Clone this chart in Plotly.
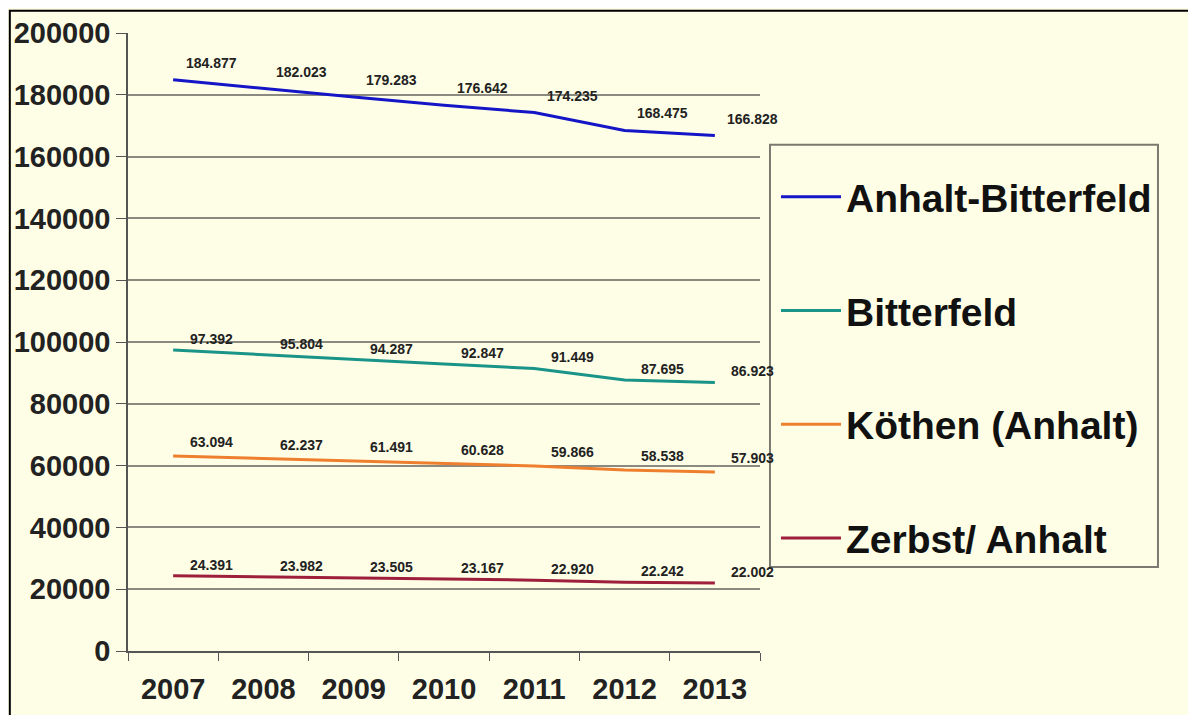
import plotly.graph_objects as go

years = ["2007", "2008", "2009", "2010", "2011", "2012", "2013"]
anhalt_bitterfeld = [184877, 182023, 179283, 176642, 174235, 168475, 166828]
bitterfeld = [97392, 95804, 94287, 92847, 91449, 87695, 86923]
koethen = [63094, 62237, 61491, 60628, 59866, 58538, 57903]
zerbst = [24391, 23982, 23505, 23167, 22920, 22242, 22002]

# name, values, colour, label lift (px)
series = [
    ("Anhalt-Bitterfeld", anhalt_bitterfeld, "#1515c8", 17),
    ("Bitterfeld", bitterfeld, "#1a9488", 11),
    ("Köthen (Anhalt)", koethen, "#ee7f2e", 14),
    ("Zerbst/ Anhalt", zerbst, "#9e1f3c", 11),
]

y_ticks = list(range(0, 200001, 20000))
BG = "#fefee6"
FONT = "Liberation Sans, Arial"


def de_num(v):
    # German thousands separator
    return "{:,}".format(v).replace(",", ".")


fig = go.Figure()
for i, (name, vals, col, lift) in enumerate(series):
    fig.add_trace(go.Scatter(
        x=years, y=vals, name=name, mode="lines",
        line=dict(color=col, width=3),
        legendgroup=str(i)))
    # value labels, a bit above and right of each point
    # (category axis -> annotations need the category index)
    for j, v in enumerate(vals):
        fig.add_annotation(x=j, y=v, xref="x", yref="y",
                           text="<b>" + de_num(v) + "</b>",
                           showarrow=False, xshift=38, yshift=lift,
                           font=dict(family=FONT, size=14, color="#222222"))

# outer frame of the picture
fig.add_shape(type="rect", xref="paper", yref="paper",
              x0=-0.187, x1=1.682, y0=-0.3, y1=1.036,
              line=dict(color="black", width=2), layer="below")
# legend box
fig.add_shape(type="rect", xref="paper", yref="paper",
              x0=1.0158, x1=1.6297, y0=0.1359, y1=0.819,
              line=dict(color="#7a7a70", width=2), fillcolor=BG, layer="below")

fig.update_layout(
    width=1196, height=715,
    # page body adds 8px offset, compensate here
    margin=dict(l=120, r=444, t=25, b=72),
    paper_bgcolor=BG,
    plot_bgcolor=BG,
    showlegend=True,
    legend=dict(x=1.0253, y=0.7865, xanchor="left", yanchor="top",
                bgcolor="rgba(0,0,0,0)", borderwidth=0,
                font=dict(family=FONT, size=39, color="#111111", weight="bold"),
                traceorder="grouped", tracegroupgap=60,
                itemwidth=60),
    xaxis=dict(type="category", range=[-0.5, 6.5], automargin=False,
               showline=True, linecolor="#555555", linewidth=1.5,
               ticks="outside", tickson="boundaries", ticklen=8,
               tickcolor="#555555", showgrid=False,
               ticklabelstandoff=11,
               tickfont=dict(family=FONT, size=29, color="#222222", weight="bold")),
    yaxis=dict(range=[0, 200000], tickvals=y_ticks, automargin=False,
               ticktext=[str(t) for t in y_ticks],
               showline=True, linecolor="#555555", linewidth=1.5,
               ticks="outside", ticklen=10, tickcolor="#555555",
               showgrid=True, gridcolor="#8a8a80", gridwidth=2,
               zeroline=False, ticklabelstandoff=0,
               tickfont=dict(family=FONT, size=29, color="#222222", weight="bold")),
)

fig.write_html("out.html")
